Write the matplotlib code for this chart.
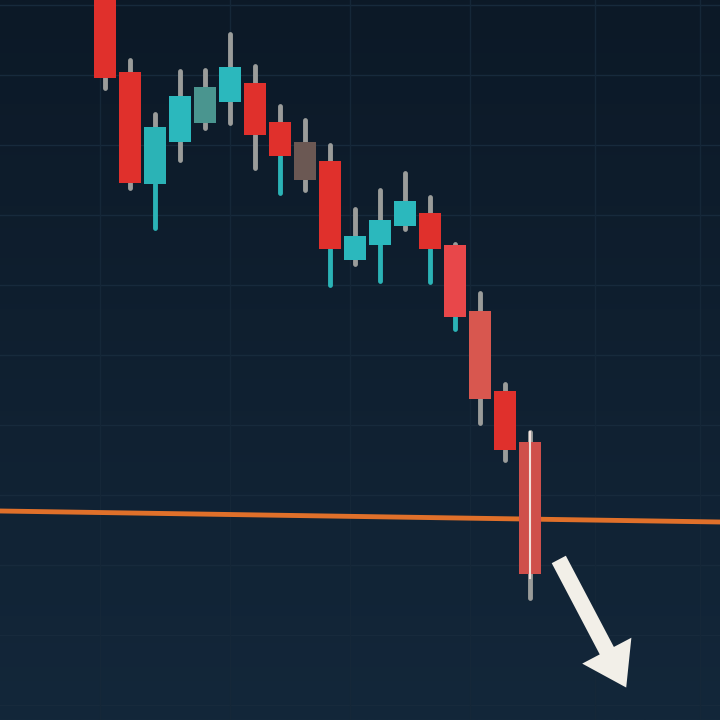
import numpy as np
import matplotlib.pyplot as plt
from matplotlib.patches import Rectangle
from matplotlib.colors import LinearSegmentedColormap

# candles (price units), oldest first
opens  = [73.5, 64.8, 53.6, 57.8, 59.7, 61.8, 63.7, 59.8, 57.8, 55.9, 46.0, 47.5, 49.4, 50.7, 47.5, 40.9, 32.9, 27.8]
highs  = [74.0, 66.0, 60.6, 64.9, 65.0, 68.6, 65.4, 61.4, 60.0, 57.5, 51.1, 53.0, 54.7, 52.3, 47.6, 42.7, 33.6, 28.8]
lows   = [63.2, 53.2, 49.2, 56.0, 59.2, 59.7, 55.2, 52.7, 53.0, 43.5, 45.6, 43.9, 49.1, 43.8, 39.1, 29.7, 26.0, 12.2]
closes = [64.2, 53.7, 59.3, 62.4, 63.3, 65.3, 58.5, 56.4, 54.0, 47.1, 48.4, 50.0, 51.9, 47.1, 40.3, 32.1, 27.0, 14.6]
colors = ['#e0302c', '#e0302c', '#2bb3b6', '#2bb8bd', '#4a958f', '#2bb8bd', '#e0302c', '#e0302c', '#6b5853',
          '#e0302c', '#2bb8bd', '#2bb8bd', '#2bb8bd', '#e0302c', '#e8474a', '#d8574f', '#e0302c', '#cf4f4b']
low_wick = ['#9a9c9a', '#9a9c9a', '#2bb3b6', '#9a9c9a', '#9a9c9a', '#9a9c9a', '#9a9c9a', '#2bb3b6', '#9a9c9a',
            '#2bb3b6', '#9a9c9a', '#2bb3b6', '#9a9c9a', '#2bb3b6', '#2bb3b6', '#9a9c9a', '#9a9c9a', '#9a9c9a']

support_level = [20.9, 19.8]   # left / right end of orange line
arrow_from = (18.1, 16.3)
arrow_to = (20.9, 3.0)

fig = plt.figure(figsize=(7.2, 7.2), dpi=100)
ax = fig.add_axes([0, 0, 1, 1])
ax.set_xlim(-4.2, 24.6)
ax.set_ylim(0, 72)

# background gradient
grad = np.linspace(0, 1, 256).reshape(-1, 1)
bg = LinearSegmentedColormap.from_list('bg', ['#0c1927', '#13273a'])
ax.imshow(grad, extent=[-4.2, 24.6, 0, 72], aspect='auto', origin='upper', cmap=bg, zorder=0)

# faint grid
for gy in np.arange(1.5, 72, 7):
    ax.axhline(gy, color='#172a3c', lw=1, zorder=1)
for gx in [-0.2, 5.0, 9.8, 14.6, 19.6, 23.8]:
    ax.axvline(gx, color='#152738', lw=1, zorder=1)

w = 0.88
for i in range(len(opens)):
    o, h, l, c = opens[i], highs[i], lows[i], closes[i]
    top, bot = max(o, c), min(o, c)
    ax.plot([i, i], [top, h], color='#9a9c9a', lw=3.5, solid_capstyle='round', zorder=3)
    ax.plot([i, i], [l, bot], color=low_wick[i], lw=3.5, solid_capstyle='round', zorder=3)
    ax.add_patch(Rectangle((i - w / 2, bot), w, top - bot, facecolor=colors[i],
                           edgecolor='none', zorder=4))
# wick visible through the last candle
last = len(opens) - 1
ax.plot([last, last], [lows[last] + 2, highs[last]], color='#f0e0dc', lw=1.5, zorder=5)

# support line
ax.plot([-4.2, 24.6], support_level, color='#e0702a', lw=3.5, zorder=2)

# arrow
ax.annotate('', xy=arrow_to, xytext=arrow_from,
            arrowprops=dict(arrowstyle='simple,head_width=4.0,head_length=3.0,tail_width=1.15',
                            mutation_scale=10, facecolor='#f2efe8', edgecolor='none'),
            zorder=6)

ax.axis('off')
fig.savefig('out.png', dpi=100)
